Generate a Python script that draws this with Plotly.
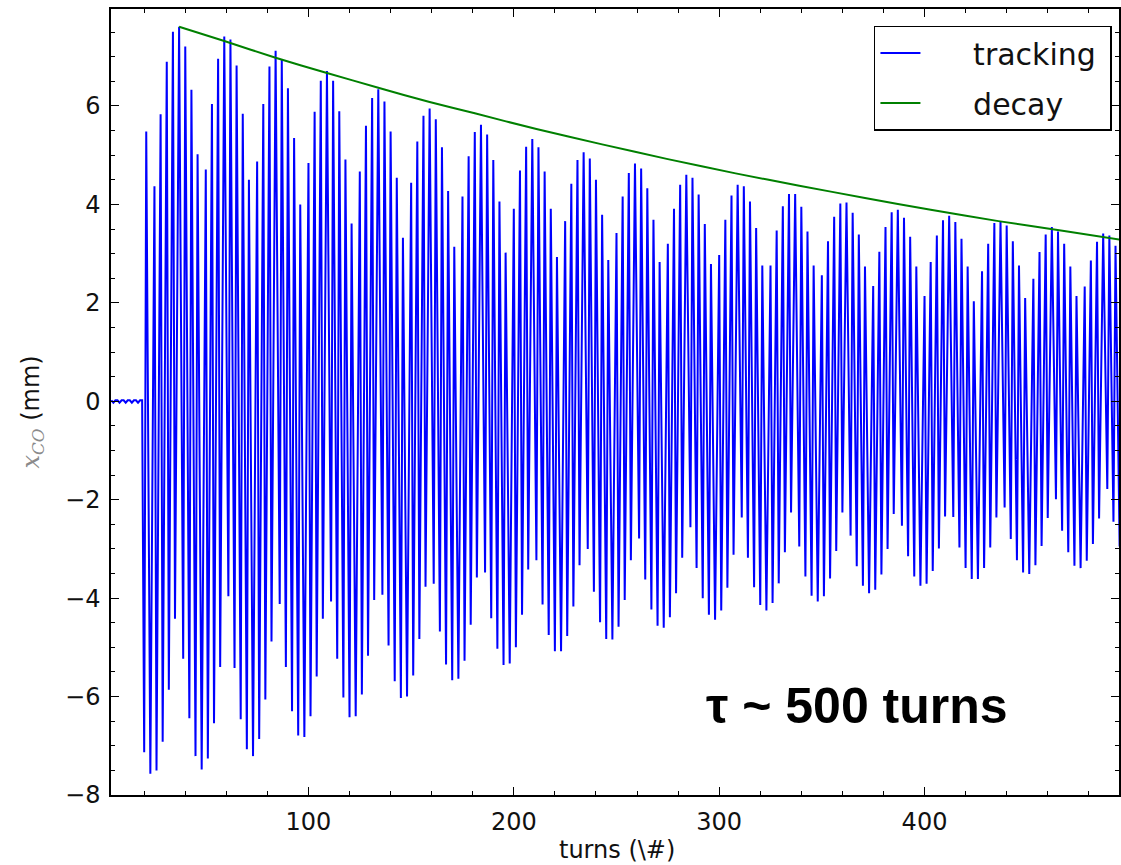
import plotly.graph_objects as go

# ---- data ----
# quiet orbit before the kick
pre_turns = [4, 5, 6, 7, 8, 9, 10, 11, 12, 13, 14, 15, 16, 17, 18, 19]
pre_vals = [0.02, -0.03, 0.02, 0.02, -0.03, 0.02, 0.02, -0.03, 0.02, 0.02,
            -0.03, 0.02, 0.02, -0.03, 0.02, 0.02]

# upper spike tips (turn, x_CO in mm)
peak_turns = [
    21,
    25, 28, 31, 34, 37, 40, 43, 46,
    50, 53, 56, 59, 62, 65, 68, 71,
    75, 78, 81, 84, 87, 90, 93, 96,
    100, 103, 106, 109, 112, 115, 118, 121,
    125, 128, 131, 134, 137, 140, 143, 146,
    150, 153, 156, 159, 162, 165, 168, 171,
    175, 178, 181, 184, 187, 190, 193, 196,
    200, 203, 206, 209, 212, 215, 218, 221,
    225, 228, 231, 234, 237, 240, 243, 246,
    250, 253, 256, 259, 262, 265, 268, 271,
    275, 278, 281, 284, 287, 290, 293, 296,
    300, 303, 306, 309, 312, 315, 318, 321,
    325, 328, 331, 334, 337, 340, 343, 346,
    350, 353, 356, 359, 362, 365, 368, 371,
    375, 378, 381, 384, 387, 390, 393, 396,
    400, 403, 406, 409, 412, 415, 418, 421, 424,
    428, 431, 434, 437, 440, 443, 446, 449,
    453, 456, 459, 462, 465, 468, 471, 474,
    478, 481, 484, 487, 490, 493,
]
peak_vals = [
    5.48,
    4.37, 5.83, 6.90, 7.51, 7.61, 7.21, 6.33, 5.02,
    4.71, 6.04, 6.96, 7.41, 7.35, 6.82, 5.84, 4.50,
    4.87, 6.04, 6.80, 7.12, 6.95, 6.36, 5.35, 4.00,
    4.84, 5.88, 6.51, 6.71, 6.51, 5.89, 4.91, 3.61,
    4.67, 5.60, 6.16, 6.34, 6.09, 5.48, 4.54, 3.32,
    4.44, 5.28, 5.80, 5.95, 5.73, 5.16, 4.27, 3.14,
    4.16, 4.98, 5.47, 5.62, 5.42, 4.90, 4.06, 3.02,
    3.91, 4.69, 5.17, 5.33, 5.16, 4.67, 3.91, 2.93,
    3.66, 4.42, 4.90, 5.06, 4.93, 4.50, 3.79, 2.87,
    3.42, 4.16, 4.64, 4.83, 4.73, 4.33, 3.69, 2.83,
    3.20, 3.91, 4.40, 4.60, 4.54, 4.20, 3.60, 2.79,
    2.97, 3.69, 4.18, 4.40, 4.37, 4.06, 3.52, 2.76,
    2.76, 3.47, 3.96, 4.21, 4.21, 3.95, 3.45, 2.76,
    2.56, 3.25, 3.75, 4.02, 4.04, 3.83, 3.39, 2.74,
    2.34, 3.04, 3.54, 3.84, 3.89, 3.73, 3.34, 2.74,
    2.14, 2.83, 3.37, 3.68, 3.77, 3.64, 3.30, 2.74, 2.03,
    2.64, 3.20, 3.62, 3.65, 3.57, 3.25, 2.76, 2.10,
    2.49, 3.03, 3.39, 3.54, 3.45, 3.20, 2.74, 2.14,
    2.33, 2.86, 3.24, 3.41, 3.37, 3.16,
]

# lower spike tips (turn, x_CO in mm)
trough_turns = [
    20, 23, 26, 29, 32, 35,
    39, 42, 45, 48, 51, 54, 57,
    61, 64, 67, 70, 73, 76, 79, 82,
    86, 89, 92, 95, 98, 101, 104, 107,
    111, 114, 117, 120, 123, 126, 129, 132,
    136, 139, 142, 145, 148, 151, 154, 157,
    161, 164, 167, 170, 173, 176, 179, 182,
    186, 189, 192, 195, 198, 201, 204, 207,
    211, 214, 217, 220, 223, 226, 229, 232,
    236, 239, 242, 245, 248, 251, 254, 257,
    261, 264, 267, 270, 273, 276, 279, 282,
    286, 289, 292, 295, 298, 301, 304, 307,
    311, 314, 317, 320, 323, 326, 329, 332, 335,
    339, 342, 345, 348, 351, 354, 357, 360,
    364, 367, 370, 373, 376, 379, 382, 385,
    389, 392, 395, 398, 401, 404, 407, 410,
    414, 417, 420, 423, 426, 429, 432, 435,
    439, 442, 445, 448, 451, 454, 457, 460,
    464, 467, 470, 473, 476, 479, 482, 485,
    489, 492, 495,
]
trough_vals = [
    -7.13, -7.57, -7.50, -6.92, -5.86, -4.42,
    -5.23, -6.44, -7.21, -7.48, -7.26, -6.54, -5.40,
    -3.96, -5.42, -6.46, -7.07, -7.21, -6.86, -6.06, -4.88,
    -4.12, -5.40, -6.30, -6.79, -6.82, -6.40, -5.59, -4.42,
    -4.07, -5.23, -6.02, -6.42, -6.40, -5.96, -5.17, -4.04,
    -3.93, -4.96, -5.69, -6.03, -6.00, -5.57, -4.83, -3.77,
    -3.71, -4.68, -5.35, -5.67, -5.64, -5.27, -4.54, -3.58,
    -3.48, -4.41, -5.03, -5.36, -5.33, -5.00, -4.34, -3.42,
    -3.23, -4.13, -4.75, -5.08, -5.08, -4.77, -4.17, -3.33,
    -3.00, -3.87, -4.49, -4.83, -4.84, -4.58, -4.04, -3.23,
    -2.79, -3.62, -4.23, -4.56, -4.60, -4.39, -3.90, -3.18,
    -2.56, -3.39, -4.00, -4.34, -4.44, -4.25, -3.79, -3.12,
    -2.36, -3.18, -3.78, -4.14, -4.25, -4.10, -3.70, -3.07, -2.26,
    -2.95, -3.56, -3.95, -4.07, -3.96, -3.60, -3.04, -2.26,
    -2.73, -3.35, -3.75, -3.90, -3.83, -3.52, -3.00, -2.29,
    -2.53, -3.15, -3.56, -3.75, -3.71, -3.45, -2.99, -2.34,
    -2.35, -2.97, -3.39, -3.61, -3.61, -3.39, -2.97, -2.36,
    -2.16, -2.80, -3.23, -3.48, -3.51, -3.33, -2.94, -2.37,
    -1.99, -2.63, -3.07, -3.34, -3.39, -3.24, -2.90, -2.38,
    -1.78, -2.45, -2.95,
]

# decay envelope
decay_turns = [37, 59, 84, 109, 134, 159, 181, 211, 243, 275, 308, 339, 371, 403, 436, 468, 496]
decay_vals = [7.61, 7.32, 6.98, 6.67, 6.37, 6.08, 5.85, 5.53, 5.22, 4.92, 4.63,
              4.38, 4.13, 3.89, 3.66, 3.46, 3.28]

x_ticks = [100, 200, 300, 400]
y_ticks = [-8, -6, -4, -2, 0, 2, 4, 6]

# ---- assemble turn-by-turn trace ----
pts = sorted(list(zip(pre_turns, pre_vals)) + list(zip(peak_turns, peak_vals))
             + list(zip(trough_turns, trough_vals)))
trk_x = [p[0] for p in pts]
trk_y = [p[1] for p in pts]

NB = "\u00a0"
fig = go.Figure()
fig.add_trace(go.Scatter(x=trk_x, y=trk_y, mode="lines", name=NB * 5 + "tracking" + NB,
                         legendgroup="a",
                         line=dict(color="#0000ff", width=2)))
fig.add_trace(go.Scatter(x=decay_turns, y=decay_vals, mode="lines", name=NB * 5 + "decay",
                         legendgroup="b",
                         line=dict(color="#008000", width=2, shape="spline", smoothing=0.6)))

tickfont = dict(family="DejaVu Sans", size=24, color="#111111")
fig.update_xaxes(range=[3.84, 494.7], tickvals=x_ticks, ticks="inside", ticklen=8,
                 tickwidth=1.2, tickcolor="black", showline=True, linecolor="black",
                 linewidth=1.5, mirror="ticks", showgrid=False, zeroline=False,
                 tickfont=tickfont, ticklabelstandoff=4,
                 minor=dict(dtick=20, tick0=0, ticks="inside", ticklen=4, tickwidth=1,
                            tickcolor="black", showgrid=False))
fig.update_yaxes(range=[-8, 7.97], tickvals=y_ticks, ticks="inside", ticklen=8,
                 tickwidth=1.2, tickcolor="black", showline=True, linecolor="black",
                 linewidth=1.5, mirror="ticks", showgrid=False, zeroline=False,
                 tickfont=tickfont, ticklabelstandoff=4,
                 minor=dict(dtick=0.5, tick0=0, ticks="inside", ticklen=4, tickwidth=1,
                            tickcolor="black", showgrid=False))

fig.update_layout(
    width=1121, height=865,
    margin=dict(l=111, r=0, t=9, b=70),
    plot_bgcolor="white", paper_bgcolor="white",
    font=dict(family="DejaVu Sans", color="#111111"),
    legend=dict(x=0.993, y=0.979, xanchor="right", yanchor="top",
                bgcolor="white", bordercolor="black", borderwidth=1.5,
                tracegroupgap=8, itemwidth=40,
                font=dict(family="DejaVu Sans", size=30, color="#111111")),
    annotations=[
        dict(text="<b>τ ~ 500 turns</b>", x=367, y=-6.2, xref="x", yref="y",
             showarrow=False, font=dict(family="Liberation Sans, Arial", size=50, color="black"),
             xanchor="center", yanchor="middle"),
        dict(text="turns (\\#)", x=0.502, y=-0.070, xref="paper", yref="paper",
             showarrow=False, font=dict(family="DejaVu Sans", size=24, color="#111111"),
             xanchor="center", yanchor="middle"),
        dict(text="<span style='font-family:DejaVu Serif;font-style:italic;color:#8a8a8a'>x<sub>CO</sub></span> (mm)",
             x=-0.078, y=0.487, xref="paper", yref="paper", textangle=-90,
             showarrow=False, font=dict(family="DejaVu Sans", size=24, color="#111111"),
             xanchor="center", yanchor="middle"),
    ],
)

fig.write_html("out.html")
